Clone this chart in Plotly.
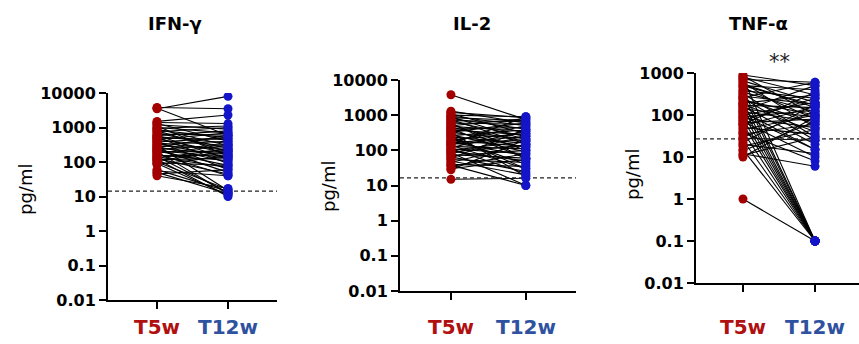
import plotly.graph_objects as go

# ---------------- data ----------------
groups = ["T5w", "T12w"]
panel_titles = ["IFN-γ", "IL-2", "TNF-α"]
y_title = "pg/ml"

ifng_t5 = [3800, 3500, 3600, 1500, 1400, 1300, 1200, 1100, 1000, 950, 900, 850, 800, 750, 700,
           650, 600, 580, 550, 520, 500, 480, 450, 420, 400, 380, 360, 340, 320, 300,
           290, 280, 260, 250, 240, 230, 220, 210, 200, 190, 180, 170, 160, 150, 145,
           140, 130, 125, 120, 115, 110, 100, 95, 90, 85, 60, 55, 50, 45, 40]
ifng_t12 = [3500, 8000, 600, 2300, 1300, 400, 900, 150, 700, 1100, 300, 500, 200, 1000, 250,
            600, 120, 800, 350, 90, 450, 180, 700, 300, 60, 500, 220, 140, 400, 15,
            250, 100, 600, 170, 50, 320, 130, 80, 12, 210, 300, 40, 110, 160, 13,
            70, 240, 45, 10, 130, 200, 16, 80, 11, 150, 14, 40, 12, 60, 17]

il2_t5 = [3800, 1300, 1200, 1100, 1000, 950, 900, 850, 800, 750, 700, 650, 600, 550, 500,
          480, 450, 420, 400, 380, 350, 330, 300, 280, 260, 240, 220, 200, 190, 180,
          170, 160, 150, 140, 130, 120, 110, 100, 95, 90, 85, 80, 75, 70, 65,
          60, 55, 50, 45, 40, 38, 35, 30, 28, 15, 110, 250, 600, 320, 150]
il2_t12 = [750, 600, 850, 300, 900, 500, 200, 700, 400, 150, 650, 250, 550, 100, 800,
           350, 180, 60, 450, 280, 120, 600, 220, 90, 380, 160, 40, 300, 130, 500,
           70, 250, 200, 30, 110, 350, 80, 180, 50, 140, 10, 260, 60, 100, 25,
           400, 45, 20, 150, 35, 10, 80, 55, 200, 16, 22, 30, 60, 18, 900]

tnfa_t5 = [900, 850, 800, 750, 700, 650, 600, 550, 500, 450, 400, 380, 350, 320, 300,
           280, 260, 240, 220, 200, 190, 180, 170, 160, 150, 140, 130, 120, 110, 100,
           95, 90, 85, 80, 75, 70, 65, 60, 55, 50, 45, 40, 38, 35, 30,
           28, 25, 22, 20, 18, 15, 14, 12, 11, 10, 1, 500, 250, 120, 60]
tnfa_t12 = [500, 100, 300, 0.1, 600, 200, 50, 150, 400, 80, 0.1, 250, 120, 30, 0.1,
            180, 600, 60, 100, 0.1, 300, 40, 150, 20, 0.1, 90, 500, 70, 0.1, 200,
            15, 130, 50, 0.1, 250, 10, 80, 0.1, 160, 35, 100, 0.1, 8, 60, 120,
            25, 0.1, 180, 12, 45, 0.1, 70, 6, 30, 90, 0.1, 170, 25, 15, 350]

detection_limits = [14.4, 16.5, 27]
tick_vals = [[0.01, 0.1, 1, 10, 100, 1000, 10000],
             [0.01, 0.1, 1, 10, 100, 1000, 10000],
             [0.01, 0.1, 1, 10, 100, 1000]]
tick_text = [["0.01", "0.1", "1", "10", "100", "1000", "10000"],
             ["0.01", "0.1", "1", "10", "100", "1000", "10000"],
             ["0.01", "0.1", "1", "10", "100", "1000"]]
significance = ["", "", "**"]

series = [(ifng_t5, ifng_t12), (il2_t5, il2_t12), (tnfa_t5, tnfa_t12)]

# ---------------- layout geometry ----------------
W, H = 859, 344
xdom_px = [(108, 277), (400, 576), (696, 859)]
ydom_px = [(93, 300), (80, 291), (73, 283)]
xranges = [[-0.69, 1.69], [-0.68, 1.67], [-0.652, 1.61]]
yranges = [[-2, 4], [-2, 4], [-2, 3]]

RED = "#a30000"
BLUE = "#1414c8"
LAB_RED = "#b01010"
LAB_BLUE = "#2f52a0"
FONT = "DejaVu Sans"

fig = go.Figure()
annotations = []

for i, ((t5, t12), title) in enumerate(zip(series, panel_titles)):
    ax = "" if i == 0 else str(i + 1)
    xa, ya = "x" + ax, "y" + ax
    lx, ly = [], []
    for a, b in zip(t5, t12):
        lx += [0, 1, None]
        ly += [a, b, None]
    fig.add_trace(go.Scatter(x=lx, y=ly, mode="lines", line=dict(color="black", width=1.1),
                             xaxis=xa, yaxis=ya, showlegend=False, hoverinfo="skip"))
    # detection limit dashed line
    fig.add_trace(go.Scatter(x=xranges[i], y=[detection_limits[i]] * 2, mode="lines",
                             line=dict(color="#222222", width=1.2, dash="4px,3px"),
                             xaxis=xa, yaxis=ya, showlegend=False, hoverinfo="skip"))
    fig.add_trace(go.Scatter(x=[0] * len(t5), y=t5, mode="markers",
                             marker=dict(color=RED, size=9), xaxis=xa, yaxis=ya,
                             showlegend=False, name=groups[0]))
    fig.add_trace(go.Scatter(x=[1] * len(t12), y=t12, mode="markers",
                             marker=dict(color=BLUE, size=9), xaxis=xa, yaxis=ya,
                             showlegend=False, name=groups[1]))

    x0, x1 = xdom_px[i]
    y0, y1 = ydom_px[i]
    fig.layout["xaxis" + ax] = dict(
        domain=[x0 / W, min(x1 / W, 1.0)], range=xranges[i], anchor=ya,
        tickvals=[0, 1], ticktext=["", ""], ticks="outside", ticklen=7, tickwidth=2,
        tickcolor="black", showline=True, linewidth=2, linecolor="black",
        showgrid=False, zeroline=False, fixedrange=True, automargin=False)
    fig.layout["yaxis" + ax] = dict(
        domain=[1 - y1 / H, 1 - y0 / H], type="log", range=yranges[i], anchor=xa,
        tickvals=tick_vals[i], ticktext=tick_text[i], ticks="outside", ticklen=7,
        tickwidth=2, tickcolor="black", showline=True, linewidth=2, linecolor="black",
        showgrid=False, zeroline=False, fixedrange=True, automargin=False,
        tickfont=dict(family=FONT, size=16, color="black", weight="bold"))

    # panel title
    annotations.append(dict(text=title, xref="paper", yref="paper",
                            x=[175, 472, 758][i] / W, y=1 - 23 / H, showarrow=False,
                            xanchor="center", yanchor="middle",
                            font=dict(family=FONT, size=18, color="black", weight="bold")))
    # y axis title
    annotations.append(dict(text=y_title, xref="paper", yref="paper",
                            x=[25, 328, 632][i] / W, y=1 - [190, 187, 175][i] / H,
                            textangle=-90, showarrow=False,
                            xanchor="center", yanchor="middle",
                            font=dict(family=FONT, size=18, color="black")))
    # group labels
    for g, col in zip([0, 1], [LAB_RED, LAB_BLUE]):
        annotations.append(dict(text=groups[g], xref=xa, yref="paper", x=g,
                                y=1 - 327 / H, showarrow=False,
                                xanchor="center", yanchor="middle",
                                font=dict(family=FONT, size=20, color=col, weight="bold")))
    if significance[i]:
        annotations.append(dict(text=significance[i], xref=xa, yref="paper", x=0.5,
                                y=1 - 62 / H, showarrow=False,
                                xanchor="center", yanchor="middle",
                                font=dict(family=FONT, size=21, color="#222222")))

fig.update_layout(width=W, height=H, margin=dict(l=0, r=0, t=0, b=0),
                  paper_bgcolor="white", plot_bgcolor="white",
                  annotations=annotations, showlegend=False)

fig.write_html("out.html", config={"displayModeBar": False},
               post_script="document.body.style.margin='0px';document.body.style.overflow='hidden';")
